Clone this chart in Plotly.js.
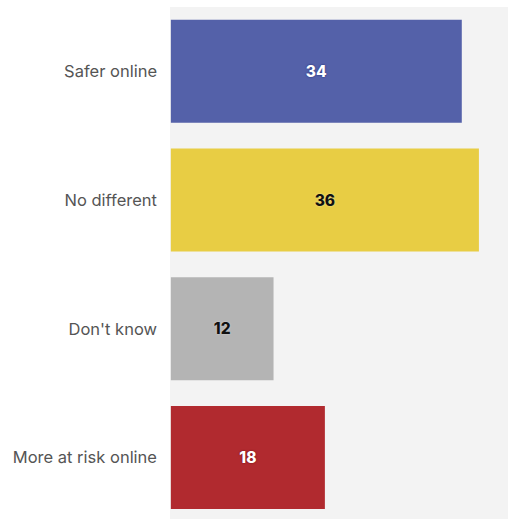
<!DOCTYPE html>
<html><head><meta charset="utf-8">
<script src="https://cdn.plot.ly/plotly-3.0.1.min.js"></script>
<style>html,body{margin:0;padding:0;background:#fff;}#chart{width:508px;height:519px;}</style>
</head><body><div id="chart"></div>
<script>
const categories = ["Safer online", "No different", "Don't know", "More at risk online"];
const values = [34, 36, 12, 18];
const barColors = ["#5461a9", "#e8cd44", "#b4b4b4", "#b12a2f"];
const textColors = ["#ffffff", "#111111", "#111111", "#ffffff"];
const textShadows = ["0px 0px 2px #1c2670", "0px 0px 2px #f5e7a0", "0px 0px 2px #d8d8d8", "0px 0px 2px #6a0d10"];

const trace = {
  type: "bar", orientation: "h",
  x: values, y: categories,
  marker: {color: barColors},
  text: values.map(String),
  textposition: "inside", insidetextanchor: "middle",
  textfont: {family: "Inter, 'Noto Sans', sans-serif", size: 15.5, weight: 800, color: textColors, shadow: textShadows},
  hoverinfo: "none", cliponaxis: false
};
const layout = {
  width: 508, height: 519,
  margin: {l: 170, r: 0, t: 7, b: 0, pad: 0},
  paper_bgcolor: "#ffffff", plot_bgcolor: "#f3f3f3",
  bargap: 0.2, showlegend: false,
  xaxis: {range: [-0.1, 39.4], showgrid: false, zeroline: false, showticklabels: false, ticks: ""},
  yaxis: {type: "category", categoryarray: categories, categoryorder: "array", range: [3.477, -0.5],
          showgrid: false, zeroline: false, ticks: "", ticklabelstandoff: 12,
          tickfont: {family: "Inter, 'Noto Sans', sans-serif", size: 16.5, color: "#555555"}}
};
Plotly.newPlot("chart", [trace], layout, {displayModeBar: false, staticPlot: true});
</script></body></html>
